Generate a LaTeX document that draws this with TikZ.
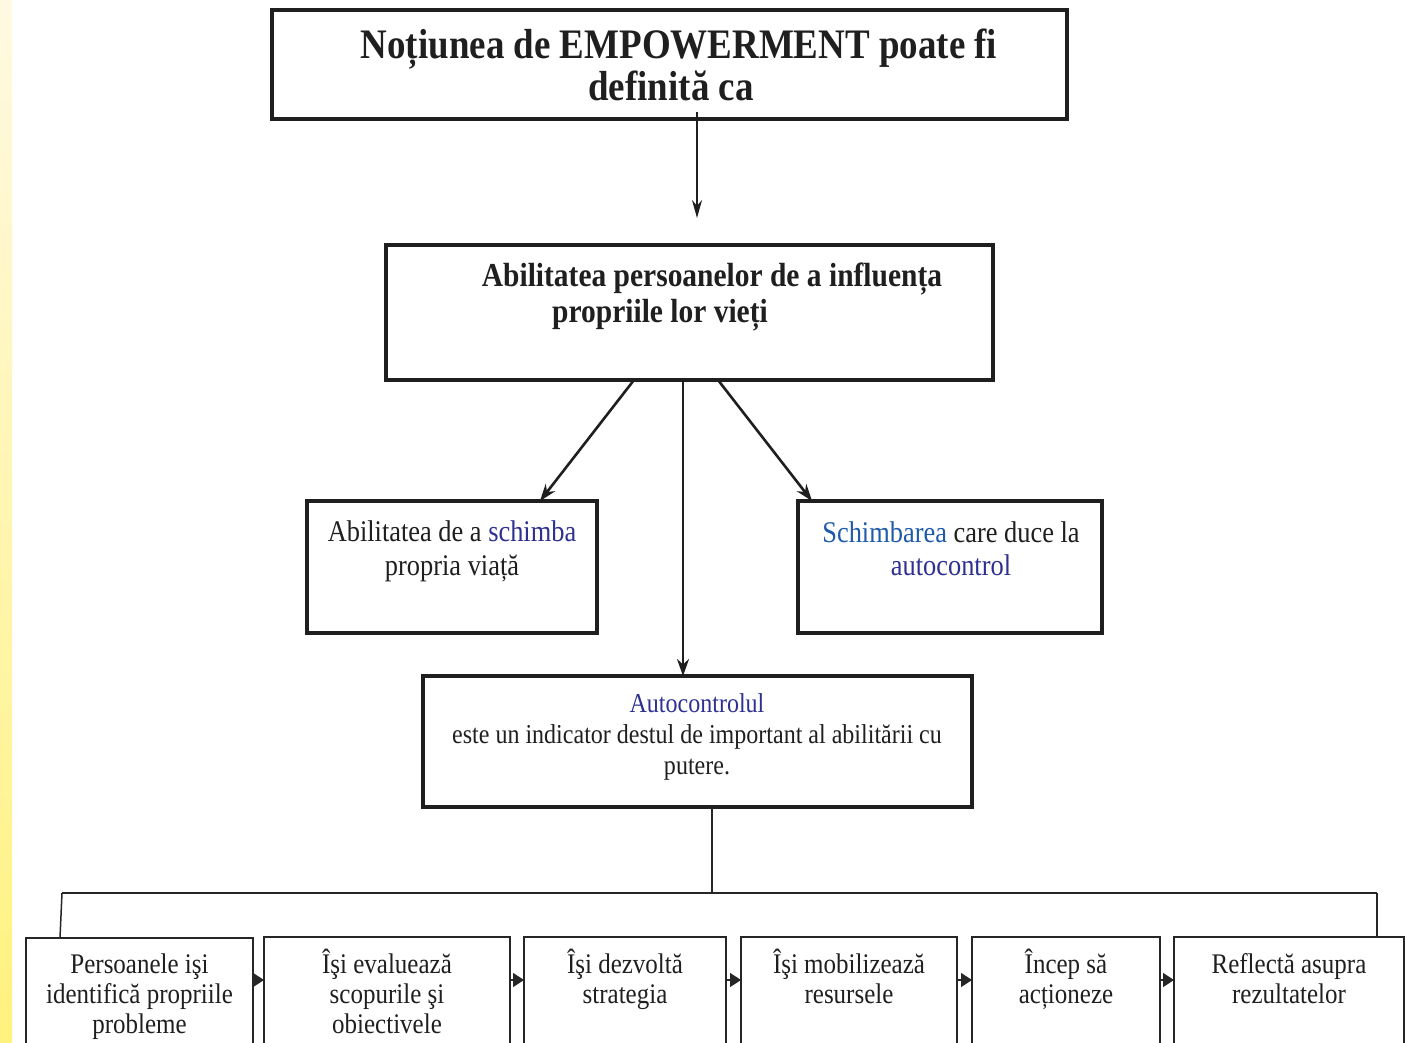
\documentclass[tikz,border=0pt]{standalone}
\usepackage{fontspec}
\setmainfont[FakeStretch=0.88]{Liberation Serif}
\usetikzlibrary{arrows.meta}
\definecolor{dblue}{HTML}{2E3192}
\definecolor{mblue}{HTML}{1F5BAA}
\definecolor{ylite}{HTML}{FFF9E2}
\definecolor{ydark}{HTML}{FFF27E}
\begin{document}
\begin{tikzpicture}[x=1pt,y=-1pt,
  bigbox/.style={draw=black!88, line width=3.5pt, inner sep=0pt, outer sep=0pt, anchor=north west},
  smallbox/.style={draw=black!85, line width=1.8pt, inner sep=0pt, outer sep=0pt, anchor=north west, minimum height=150pt},
  txt/.style={align=center, inner sep=0pt, text=black!88},
  arr/.style={draw=black!88, line width=2.6pt, -{Stealth[length=17pt,width=12pt]}},
  arrthin/.style={draw=black!88, line width=2pt, -{Stealth[length=18pt,width=10pt]}},
  conn/.style={draw=black!85, line width=1.5pt},
  sarr/.style={draw=black!85, line width=1.5pt, -{Triangle[length=11pt,width=14pt]}}
]
\useasboundingbox (0,0) rectangle (1405,1043);
\clip (0,0) rectangle (1405,1043);
\fill[white] (0,0) rectangle (1405,1043);
\shade[top color=ylite, bottom color=ydark] (0,0) rectangle (12,1043);

% main boxes
\node[bigbox, minimum width=795pt, minimum height=109pt] (n1) at (272,10) {};
\node[txt, font=\bfseries\fontsize{42}{42}\selectfont] (t1) at (679,65) {Noțiunea de EMPOWERMENT poate fi\\definită ca\hspace*{16pt}};

\node[bigbox, minimum width=607pt, minimum height=135pt] (n2) at (386,245) {};
\node[txt, font=\bfseries\fontsize{33.5}{36}\selectfont] (t2a) at (712,279) {Abilitatea persoanelor de a influența};
\node[txt, font=\bfseries\fontsize{33.5}{36}\selectfont] (t2b) at (660,315) {propriile lor vieți};

\node[bigbox, minimum width=290pt, minimum height=132pt] (n3) at (307,501) {};
\node[txt, font=\fontsize{30}{34}\selectfont] (t3) at (452,551) {Abilitatea de a \textcolor{dblue}{schimba}\\propria viață};

\node[bigbox, minimum width=304pt, minimum height=132pt] (n4) at (798,501) {};
\node[txt, font=\fontsize{30}{33}\selectfont] (t4) at (951,549) {\textcolor{mblue}{Schimbarea} care duce la\\\textcolor{dblue}{autocontrol}};

\node[bigbox, minimum width=549pt, minimum height=131pt] (n5) at (423,676) {};
\node[txt, font=\fontsize{27.3}{31}\selectfont] (t5) at (697,737) {\textcolor{dblue}{Autocontrolul}\\este un indicator destul de important al abilitării cu\\putere.};

% bottom boxes
\node[smallbox, minimum width=227pt] (b1) at (26,938) {};
\node[smallbox, minimum width=246pt] (b2) at (264,937) {};
\node[smallbox, minimum width=202pt] (b3) at (524,937) {};
\node[smallbox, minimum width=216pt] (b4) at (741,937) {};
\node[smallbox, minimum width=188pt] (b5) at (972,937) {};
\node[smallbox, minimum width=230pt] (b6) at (1174,937) {};

\tikzset{btxt/.style={txt, font=\fontsize{28.4}{30}\selectfont}}
\node[btxt] (s1) at (139.5,997) {Persoanele işi\\identifică propriile\\probleme};
\node[btxt] (s2) at (387,991) {Îşi evaluează\\scopurile şi\\obiectivele};
\node[btxt] (s3) at (625,979) {Îşi dezvoltă\\strategia};
\node[btxt] (s4) at (849,976) {Îşi mobilizează\\resursele};
\node[btxt] (s5) at (1066,979) {Încep să\\acționeze};
\node[btxt] (s6) at (1289,979) {Reflectă asupra\\rezultatelor};

% connectors
\coordinate (e1) at (697,218);
\draw[arrthin] ([xshift=27.5pt,yshift=7pt]n1.south) -- (e1);
\draw[arr] ([xshift=-55.5pt]n2.south) -- ([xshift=88pt]n3.north);
\draw[arr] ([xshift=-6.5pt]n2.south) -- ([xshift=-14.5pt]n5.north);
\draw[arr] ([xshift=28.5pt]n2.south) -- ([xshift=-138pt]n4.north);

\coordinate (j) at (712,893);
\coordinate (jl) at (62,893);
\coordinate (jr) at (1377,893);
\draw[conn] ([xshift=14.5pt]n5.south) -- (j);
\draw[conn] (jl) -- (jr);
\draw[conn] (jl) -- ([xshift=-79.5pt]b1.north);
\draw[conn] (jr) -- ([xshift=88pt]b6.north);

\draw[sarr] ([yshift=-42pt]b1.north east) -- ([yshift=-43pt]b2.north west);
\draw[sarr] ([yshift=-43pt]b2.north east) -- ([yshift=-43pt]b3.north west);
\draw[sarr] ([yshift=-43pt]b3.north east) -- ([yshift=-43pt]b4.north west);
\draw[sarr] ([yshift=-43pt]b4.north east) -- ([yshift=-43pt]b5.north west);
\draw[sarr] ([yshift=-43pt]b5.north east) -- ([yshift=-43pt]b6.north west);
\end{tikzpicture}
\end{document}
